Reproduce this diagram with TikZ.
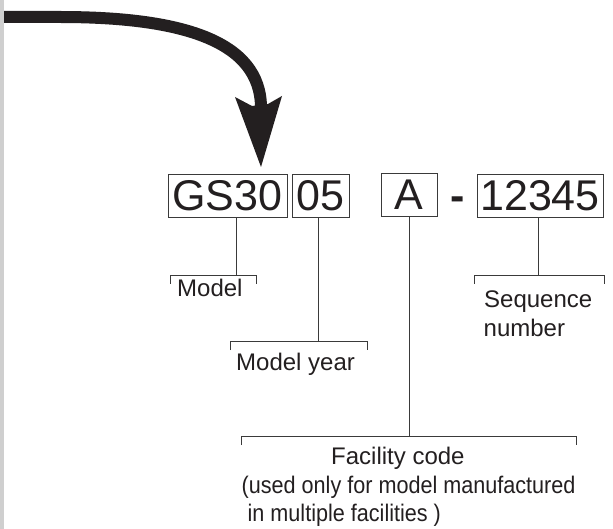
\documentclass[tikz,border=0pt]{standalone}
\usepackage{fontspec}
\usepackage{graphicx}
\setmainfont{Liberation Sans}
\definecolor{ink}{HTML}{231F20}
\definecolor{rule}{HTML}{3A3A3A}
\definecolor{strip}{HTML}{CFCFCF}
\begin{document}
\begin{tikzpicture}[x=1pt,y=-1pt,
  codebox/.style={draw=rule,line width=0.9pt,inner sep=0pt,text=ink,
    font=\fontsize{43}{43}\selectfont},
  lbl/.style={inner sep=0pt,anchor=base west,text=ink,
    font=\fontsize{24}{28}\selectfont},
  leader/.style={draw=rule,line width=0.9pt},
  bigarrow/.style={draw=ink,line width=12pt},
]
\useasboundingbox (0,0) rectangle (613,529);
\fill[white] (0,0) rectangle (613,529);
\fill[strip] (0,0) rectangle (4,529);

% code boxes
\node[codebox,minimum width=119pt,minimum height=43pt] (gs) at (227.5,195.5) {GS30};
\node[codebox,minimum width=57pt,minimum height=43pt] (yr) at (320.5,195.5) {05};
\node[codebox,minimum width=56pt,minimum height=43pt] (fc) at (409,194.5) {A};
\node[inner sep=0pt,anchor=base,text=ink,font=\fontsize{43}{43}\selectfont\bfseries] (dash) at (457.5,211) {-};
\node[codebox,minimum width=126pt,minimum height=43pt] (sq) at (540,195.5) {12345};

% bracket junction points
\coordinate (mdlj) at (236,275);
\coordinate (yrj) at (318,341);
\coordinate (fcj) at (409,436);
\coordinate (sqj) at (538,275);

% leaders
\draw[leader] (gs.south -| mdlj) -- (mdlj);
\draw[leader] (170,284) -- (170,275) -- (256,275) -- (256,284);
\draw[leader] (yr.south -| yrj) -- (yrj);
\draw[leader] (230,350) -- (230,341) -- (367,341) -- (367,350);
\draw[leader] (fc.south -| fcj) -- (fcj);
\draw[leader] (241,445) -- (241,436) -- (576,436) -- (576,445);
\draw[leader] (sq.south -| sqj) -- (sqj);
\draw[leader] (474,284) -- (474,275) -- (604,275) -- (604,284);

% labels
\node[lbl] (mdl) at (177,297) {Model};
\node[lbl] (myr) at (236,370) {Model year};
\node[lbl] (seqa) at (484,307.5) {Sequence};
\node[lbl] (seqb) at (483.5,336.5) {number};
\node[lbl] (fca) at (331,464) {Facility code};
\node[lbl] (fcb) at (241.5,493) {\scalebox{0.9}[1]{(used only for model manufactured}};
\node[lbl] (fcc) at (247.5,521) {\scalebox{0.9}[1]{in multiple facilities )}};

% big arrow
\coordinate (astart) at (4,17);
\coordinate (aend) at (261,108);
\draw[bigarrow] (astart) -- (60,17) .. controls (180,17) and (261,40) .. (aend);
\fill[ink] (235,97) -- (252,106) -- (268,104) -- (282,96) -- (261,167) -- cycle;
\end{tikzpicture}
\end{document}
